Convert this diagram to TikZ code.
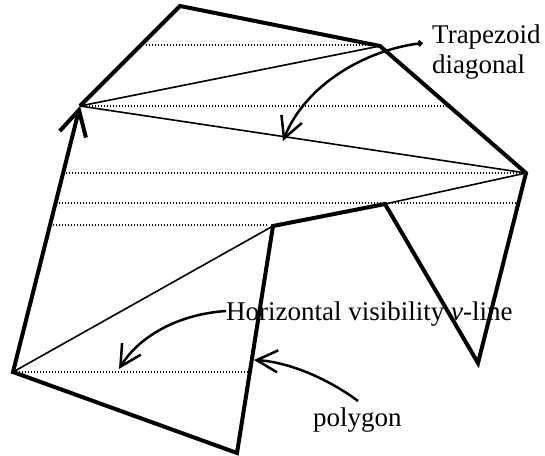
\documentclass[tikz,border=0pt]{standalone}
\usepackage{fontspec}
\setmainfont{Liberation Serif}
\usetikzlibrary{arrows.meta}
\begin{document}
\begin{tikzpicture}[x=1pt,y=-1pt,
  polyline/.style={line width=4pt, line join=miter, -{Straight Barb[length=25pt,width=27pt]}},
  thinline/.style={line width=1.6pt},
  dotline/.style={line width=1.4pt, dash pattern=on 1.4pt off 1.6pt},
  callout/.style={line width=2.5pt, -{Straight Barb[length=21pt,width=22pt]}},
  lbl/.style={font=\fontsize{27}{30}\selectfont, inner sep=0pt, anchor=base west}]
\useasboundingbox (0,0) rectangle (545,455);
% polygon vertices
\coordinate (A) at (180,6);
\coordinate (B) at (380,46);
\coordinate (C) at (526,173);
\coordinate (D) at (478,363);
\coordinate (E) at (385,204);
\coordinate (F) at (273,226);
\coordinate (G) at (237,453);
\coordinate (H) at (13,372);
\coordinate (I) at (80,106);
% dotted line ends
\coordinate (d1a) at (146,45);  \coordinate (d1b) at (377,45);
\coordinate (d2b) at (447,106);
\coordinate (d3a) at (66,173);
\coordinate (d4a) at (59,203);  \coordinate (d4b) at (516,203);
\coordinate (d5a) at (53,225);  \coordinate (d5b) at (268,225);
\coordinate (d6b) at (250,372);
% dotted horizontal visibility lines
\draw[dotline] (d1a) -- (d1b);
\draw[dotline] (I) -- (d2b);
\draw[dotline] (d3a) -- (C);
\draw[dotline] (d4a) -- (d4b);
\draw[dotline] (d5a) -- (d5b);
\draw[dotline] (H) -- (d6b);
% trapezoid diagonals
\draw[thinline] (I) -- (B);
\draw[thinline] (I) -- (C);
\draw[thinline] (C) -- (E);
\draw[thinline] (H) -- (F);
% polygon
\draw[polyline] (I) -- (A) -- (B) -- (C) -- (D) -- (E) -- (F) -- (G) -- (H) -- (I);
% labels
\node[lbl] (trap) at (432,43) {Trapezoid};
\node[lbl] (diag) at (432,73) {diagonal};
\node[lbl] (hvis) at (226,320) {Horizontal visibility \textit{v}-line};
\node[lbl] (polyl) at (313,426) {polygon};
% callout arrows
\coordinate (s1) at (423,43);  \coordinate (t1) at (283,141);
\coordinate (s2) at (226,311); \coordinate (t2) at (119,369);
\coordinate (s3) at (358,401); \coordinate (t3) at (254,360);
\draw[callout, {Straight Barb[length=2.5pt,width=5pt]}-{Straight Barb[length=21pt,width=22pt]}] (s1) .. controls (365,50) and (305,85) .. (t1);
\draw[callout] (s2) .. controls (180,314) and (140,335) .. (t2);
\draw[callout] (s3) .. controls (330,380) and (290,362) .. (t3);
\end{tikzpicture}
\end{document}
